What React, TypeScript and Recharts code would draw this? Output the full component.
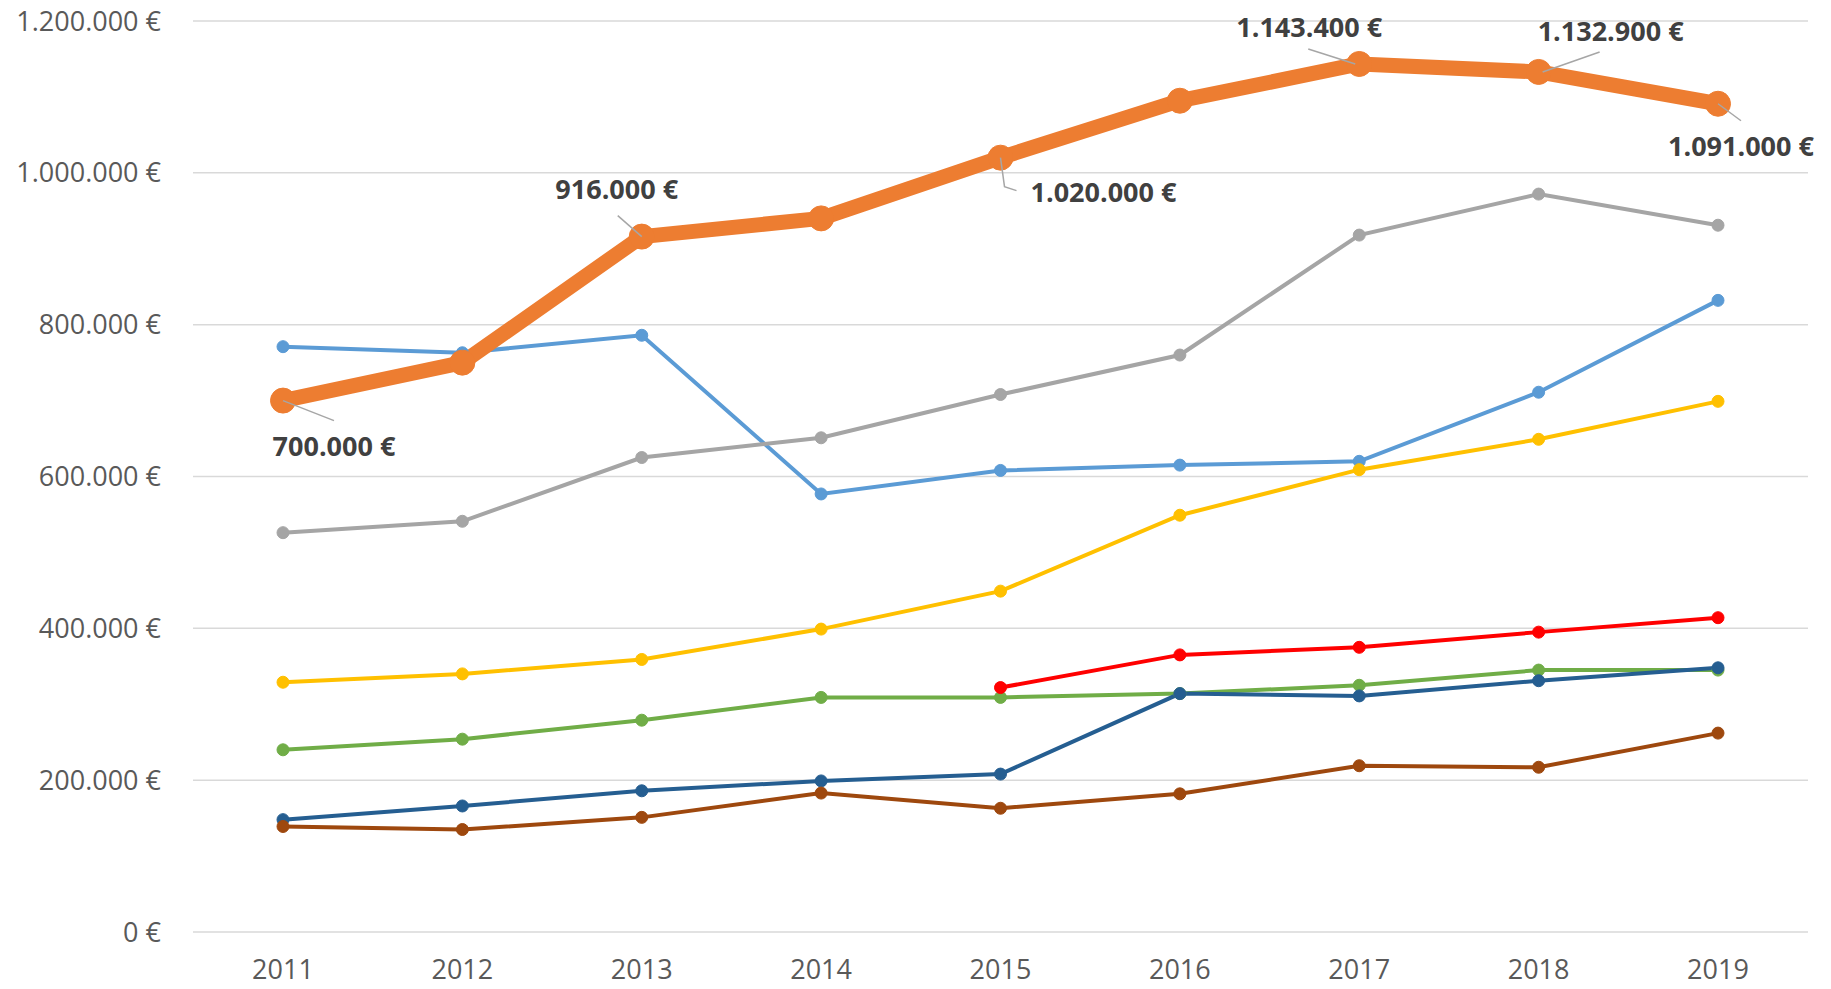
import { LineChart, Line, XAxis, YAxis, CartesianGrid, LabelList } from 'recharts';

const years = ['2011', '2012', '2013', '2014', '2015', '2016', '2017', '2018', '2019'];

const gesamt = [700000, 750000, 916000, 940000, 1020000, 1095000, 1143400, 1132900, 1091000];
const blau = [771000, 763000, 786000, 577000, 608000, 615000, 620000, 711000, 832000];
const grau = [526000, 541000, 625000, 651000, 708000, 760000, 918000, 972000, 931000];
const gelb = [329000, 340000, 359000, 399000, 449000, 549000, 609000, 649000, 699000];
const rot = [null, null, null, null, 322000, 365000, 375000, 395000, 414000];
const gruen = [240000, 254000, 279000, 309000, 309000, 314000, 325000, 345000, 345000];
const dunkelblau = [148000, 166000, 186000, 199000, 208000, 314000, 311000, 331000, 348000];
const braun = [139000, 135000, 151000, 183000, 163000, 182000, 219000, 217000, 262000];

const yTicks = [0, 200000, 400000, 600000, 800000, 1000000, 1200000];

const data = years.map((year, i) => ({
    year,
    gesamt: gesamt[i],
    blau: blau[i],
    grau: grau[i],
    gelb: gelb[i],
    rot: rot[i],
    gruen: gruen[i],
    dunkelblau: dunkelblau[i],
    braun: braun[i],
}));

const euro = (v: number) => String(v).replace(/\B(?=(\d{3})+(?!\d))/g, '.') + ' €';

// where each data label sits relative to its point, plus its leader line
const labelSpots: Record<number, { dx: number; dy: number; leader: [number, number][] }> = {
    0: { dx: 51, dy: 45, leader: [[0, 0], [51, 20]] },
    2: { dx: -25, dy: -48, leader: [[-24, -21], [0, 0]] },
    4: { dx: 103, dy: 34, leader: [[0, 0], [4, 29], [16, 33]] },
    6: { dx: -50, dy: -37, leader: [[-51, -15], [-4, 0]] },
    7: { dx: 72, dy: -41, leader: [[4, 0], [61, -20]] },
    8: { dx: 23, dy: 42, leader: [[0, 0], [23, 17]] },
};

function SpotLabel(props: any) {
    const { x, y, index, value } = props;
    const spot = labelSpots[index];
    if (!spot || value == null) return null;
    const pts = spot.leader.map(([a, b]) => `${x + a},${y + b}`).join(' ');
    return (
        <g>
            <polyline points={pts} fill="none" stroke="#A6A6A6" strokeWidth={1.5} />
            <text
                x={x + spot.dx}
                y={y + spot.dy}
                textAnchor="middle"
                dominantBaseline="central"
                fill="#404040"
                fontSize={27}
                fontWeight="bold"
                fontFamily="'Open Sans', sans-serif"
            >
                {euro(value)}
            </text>
        </g>
    );
}

const thin = [
    { key: 'blau', color: '#5B9BD5' },
    { key: 'grau', color: '#A5A5A5' },
    { key: 'gelb', color: '#FFC000' },
    { key: 'gruen', color: '#70AD47' },
    { key: 'rot', color: '#FF0000' },
    { key: 'dunkelblau', color: '#255E91' },
    { key: 'braun', color: '#9E480E' },
];

export default function App() {
    return (
        <div style={{ position: 'absolute', left: 0, top: 0, background: '#fff' }}>
            <LineChart width={1831} height={989} data={data} margin={{ top: 21, right: 23, bottom: 0, left: 0 }}>
                <CartesianGrid vertical={false} stroke="#D9D9D9" strokeWidth={1.5} />
                <XAxis
                    dataKey="year"
                    height={57}
                    axisLine={false}
                    tickLine={false}
                    tickSize={0}
                    tickMargin={28}
                    padding={{ left: 90, right: 90 }}
                    tick={{ fill: '#595959', fontSize: 27, fontFamily: "'Open Sans', sans-serif" }}
                />
                <YAxis
                    width={193}
                    domain={[0, 1200000]}
                    ticks={yTicks}
                    axisLine={false}
                    tickLine={false}
                    tickSize={0}
                    tickMargin={32}
                    tickFormatter={euro}
                    tick={{ fill: '#595959', fontSize: 27, fontFamily: "'Open Sans', sans-serif" }}
                />
                {thin.map(s => (
                    <Line
                        key={s.key}
                        dataKey={s.key}
                        stroke={s.color}
                        strokeWidth={4}
                        dot={{ r: 6, fill: s.color, stroke: s.color, strokeWidth: 1 }}
                        isAnimationActive={false}
                    />
                ))}
                <Line
                    dataKey="gesamt"
                    stroke="#ED7D31"
                    strokeWidth={15}
                    strokeLinejoin="round"
                    dot={{ r: 12.5, fill: '#ED7D31', stroke: '#ED7D31', strokeWidth: 1 }}
                    isAnimationActive={false}
                >
                    <LabelList dataKey="gesamt" content={<SpotLabel />} />
                </Line>
            </LineChart>
        </div>
    );
}
